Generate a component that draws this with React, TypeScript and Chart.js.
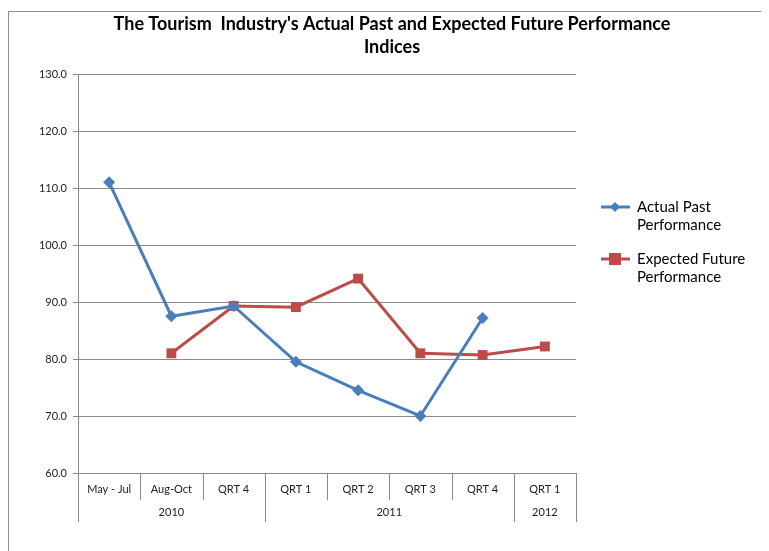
import { useEffect, useRef } from "react";
import { Chart, registerables } from "chart.js";

Chart.register(...registerables);

const CHART_TITLE = [
  "The Tourism  Industry's Actual Past and Expected Future Performance",
  "Indices",
];
const categories = ["May - Jul", "Aug-Oct", "QRT 4", "QRT 1", "QRT 2", "QRT 3", "QRT 4", "QRT 1"];
const yearGroups = ["2010", "2011", "2012"];
const yearSpans = [3, 4, 1];
const actualPast = [111.0, 87.5, 89.3, 79.5, 74.5, 70.0, 87.2, null];
const expectedFuture = [null, 81.0, 89.3, 89.1, 94.1, 81.0, 80.7, 82.2];
const seriesNames = ["Actual Past Performance", "Expected Future Performance"];
const legendLines = [
  ["Actual Past", "Performance"],
  ["Expected Future", "Performance"],
];
const yMin = 60;
const yMax = 130;
const yStep = 10;

const FONT = "Lato, 'Open Sans', sans-serif";
const BLUE = "#4A7EBB";
const RED = "#BE4B48";
const GRID = "#8a8a8a";

const decorPlugin = {
  id: "decor",
  afterDraw(chart: any) {
    const ctx = chart.ctx;
    const xs = chart.scales.x;
    const area = chart.chartArea;
    ctx.save();
    // title
    ctx.fillStyle = "#000";
    ctx.font = `bold 18px ${FONT}`;
    ctx.textAlign = "center";
    ctx.textBaseline = "middle";
    CHART_TITLE.forEach((t, i) => ctx.fillText(t, 383, 12 + i * 23));

    // category dividers & year groups
    ctx.strokeStyle = GRID;
    ctx.lineWidth = 1;
    const boundaries = new Set<number>([0]);
    let acc = 0;
    yearSpans.forEach((s) => {
      acc += s;
      boundaries.add(acc);
    });
    for (let b = 0; b <= categories.length; b++) {
      const x = Math.round(xs.getPixelForValue(b - 0.5)) + 0.5;
      const long = boundaries.has(b);
      ctx.beginPath();
      ctx.moveTo(x, area.bottom);
      ctx.lineTo(x, area.bottom + (long ? 49 : 27));
      ctx.stroke();
    }
    ctx.font = `11px ${FONT}`;
    ctx.fillStyle = "#222";
    let start = 0;
    yearGroups.forEach((g, i) => {
      const end = start + yearSpans[i];
      const x0 = xs.getPixelForValue(start - 0.5);
      const x1 = xs.getPixelForValue(end - 0.5);
      ctx.fillText(g, (x0 + x1) / 2, area.bottom + 39);
      start = end;
    });

    // legend
    chart.data.datasets.forEach((ds: any, i: number) => {
      const y = 195 + i * 52;
      ctx.strokeStyle = ds.borderColor;
      ctx.lineWidth = 3;
      ctx.beginPath();
      ctx.moveTo(592, y);
      ctx.lineTo(621, y);
      ctx.stroke();
      ctx.fillStyle = ds.backgroundColor;
      if (ds.pointStyle === "rectRot") {
        ctx.beginPath();
        ctx.moveTo(606, y - 5);
        ctx.lineTo(611, y);
        ctx.lineTo(606, y + 5);
        ctx.lineTo(601, y);
        ctx.closePath();
        ctx.fill();
      } else {
        ctx.fillRect(600, y - 6, 12, 12);
      }
      ctx.fillStyle = "#000";
      ctx.font = `15px ${FONT}`;
      ctx.textAlign = "left";
      legendLines[i].forEach((ln, j) => ctx.fillText(ln, 628, y + j * 18));
      ctx.textAlign = "center";
    });
    ctx.restore();
  },
};

export default function App() {
  const ref = useRef<HTMLCanvasElement>(null);
  useEffect(() => {
    document.body.style.overflow = "hidden";
    const chart = new Chart(ref.current!, {
      type: "line",
      data: {
        labels: categories,
        datasets: [
          {
            label: seriesNames[0],
            data: actualPast,
            borderColor: BLUE,
            backgroundColor: BLUE,
            borderWidth: 3,
            pointStyle: "rectRot",
            pointRadius: 6,
            pointBorderWidth: 0,
            pointBackgroundColor: BLUE,
            tension: 0,
          },
          {
            label: seriesNames[1],
            data: expectedFuture,
            borderColor: RED,
            backgroundColor: RED,
            borderWidth: 3,
            pointStyle: "rect",
            pointRadius: 7,
            pointBorderWidth: 0,
            pointBackgroundColor: RED,
            tension: 0,
          },
        ],
      },
      options: {
        responsive: false,
        animation: false,
        layout: { padding: { top: 62, right: 193, left: 0, bottom: 0 } },
        plugins: {
          legend: { display: false },
          title: { display: false },
          tooltip: { enabled: false },
        },
        scales: {
          x: {
            type: "category",
            offset: true,
            grid: { drawOnChartArea: false, drawTicks: false, offset: true },
            border: { display: true, color: GRID },
            ticks: {
              font: { family: FONT, size: 11 },
              color: "#222",
              padding: 10,
              maxRotation: 0,
              autoSkip: false,
            },
            afterFit: (s: any) => {
              s.height = 78;
            },
          },
          y: {
            min: yMin,
            max: yMax,
            grid: { color: GRID, tickLength: 5 },
            border: { display: true, color: GRID },
            ticks: {
              stepSize: yStep,
              font: { family: FONT, size: 11 },
              color: "#222",
              padding: 6,
              callback: (v: any) => Number(v).toFixed(1),
            },
            afterFit: (s: any) => {
              s.width = 69;
            },
          },
        },
      },
      plugins: [decorPlugin],
    });
    return () => chart.destroy();
  }, []);
  return (
    <div
      style={{
        marginTop: 3,
        borderTop: "1px solid #8c8c8c",
        borderLeft: "1px solid #8c8c8c",
        width: 761,
        height: 540,
        overflow: "hidden",
      }}
    >
      <canvas ref={ref} width={760} height={539} style={{ display: "block" }} />
    </div>
  );
}
